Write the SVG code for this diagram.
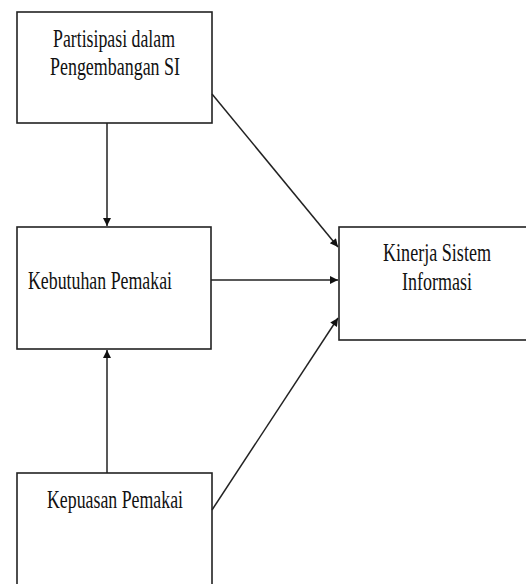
<svg xmlns="http://www.w3.org/2000/svg" width="526" height="584" viewBox="0 0 526 584">
<style>
.box{fill:#fff;stroke:#222;stroke-width:1.6}
.lbl{font-family:"Liberation Serif","Times New Roman",serif;font-size:25px;fill:#111}
.conn line{stroke:#222;stroke-width:1.5}
</style>
<defs>
<marker id="ah" viewBox="0 0 10 10" refX="10" refY="5" markerWidth="10" markerHeight="8" markerUnits="userSpaceOnUse" orient="auto">
<path d="M0,0 L10,5 L0,10 z" fill="#111"/>
</marker>
</defs>
<rect width="526" height="584" fill="#fff"/>
<g id="n1">
<rect class="box" x="17" y="12" width="195" height="111"/>
<text class="lbl" x="53" y="47" textLength="122" lengthAdjust="spacingAndGlyphs">Partisipasi dalam</text>
<text class="lbl" x="50" y="75" textLength="130" lengthAdjust="spacingAndGlyphs">Pengembangan SI</text>
</g>
<g id="n2">
<rect class="box" x="17" y="227" width="194" height="122"/>
<text class="lbl" x="28" y="289" textLength="144" lengthAdjust="spacingAndGlyphs">Kebutuhan Pemakai</text>
</g>
<g id="n3">
<rect class="box" x="339" y="227" width="189" height="113"/>
<text class="lbl" x="383" y="261" textLength="108" lengthAdjust="spacingAndGlyphs">Kinerja Sistem</text>
<text class="lbl" x="402" y="290" textLength="70" lengthAdjust="spacingAndGlyphs">Informasi</text>
</g>
<g id="n4">
<rect class="box" x="17" y="473" width="195" height="130"/>
<text class="lbl" x="47" y="508" textLength="136" lengthAdjust="spacingAndGlyphs">Kepuasan Pemakai</text>
</g>
<g class="conn" id="connectors">
<line x1="107" y1="123" x2="107" y2="226" marker-end="url(#ah)"/>
<line x1="212" y1="94" x2="338" y2="247" marker-end="url(#ah)"/>
<line x1="211" y1="280" x2="338" y2="280" marker-end="url(#ah)"/>
<line x1="212" y1="510" x2="338" y2="318" marker-end="url(#ah)"/>
<line x1="107" y1="473" x2="107" y2="350" marker-end="url(#ah)"/>
</g>
</svg>
